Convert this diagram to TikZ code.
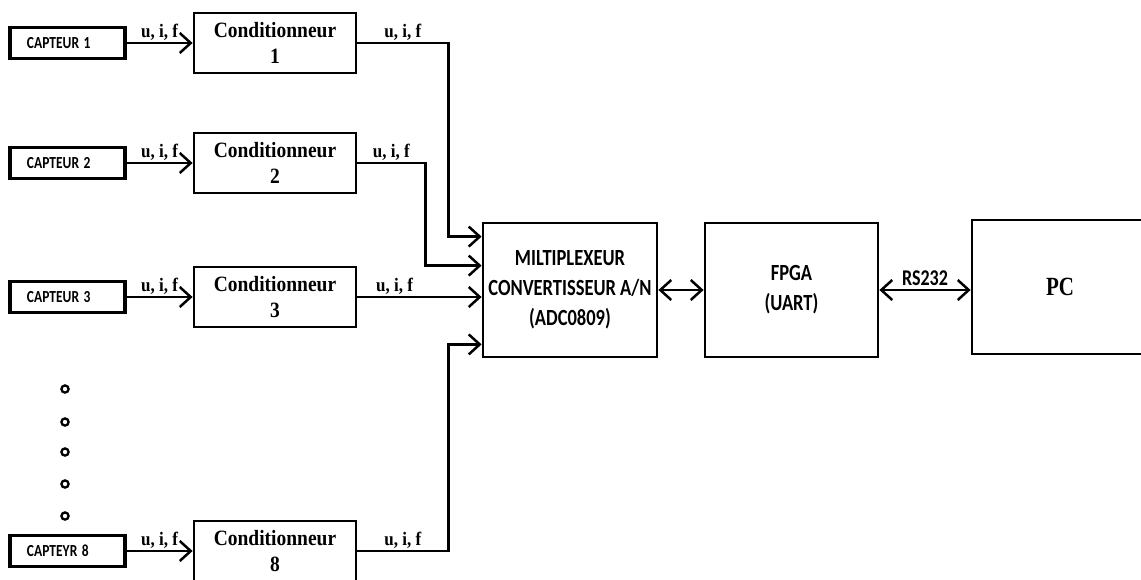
\documentclass[tikz,border=0pt]{standalone}
\usepackage{fontspec}
\usepackage{graphicx}
\setmainfont{Liberation Serif}
\newfontfamily\calibri{Carlito}
\usetikzlibrary{arrows.meta}
\newcommand{\etire}[1]{\scalebox{1}[1.25]{#1}}
\newcommand{\etirs}[1]{\scalebox{1}[1.12]{#1}}

\begin{document}
\begin{tikzpicture}[x=1pt,y=-1pt,
	capteur/.style={draw,line width=3.2pt,minimum height=31pt,inner ysep=0pt,inner xsep=17pt,text width=81pt,align=left,font=\calibri\bfseries\fontsize{13.5}{15}\selectfont},
	cond/.style={draw,line width=2.8pt,minimum width=162pt,minimum height=60pt,inner sep=0pt,align=center,font=\bfseries\fontsize{19.5}{26}\selectfont},
	bloc/.style={draw,line width=2.8pt,minimum width=174pt,minimum height=134pt,inner sep=0pt,align=center,font=\calibri\bfseries\fontsize{18.5}{30}\selectfont},
	fil/.style={line width=2.5pt},
	fleche/.style={fil,-{Straight Barb[length=11pt,width=20pt]}},
	double/.style={fil,{Straight Barb[length=11pt,width=20pt]}-{Straight Barb[length=11pt,width=20pt]}},
	lab/.style={font=\bfseries\fontsize{17}{20}\selectfont,inner sep=1pt}]
	\useasboundingbox (0,0) rectangle (1141,579);
	\clip (0,0) rectangle (1141,579);
	% capteurs
	\node[capteur] (cap1) at (67.5,43) {\etire{CAPTEUR 1}};
	\node[capteur] (cap2) at (67.5,163) {\etire{CAPTEUR 2}};
	\node[capteur] (cap3) at (67.5,297) {\etire{CAPTEUR 3}};
	\node[capteur] (cap8) at (67.5,551) {\etire{CAPTEYR 8}};
	\foreach \y in {389,422,452,484,516}
		\draw[line width=2.3pt] (65,\y) circle (3.6pt);
	% conditionneurs
	\node[cond] (c1) at (275,43) {\etirs{Conditionneur}\\\etirs{1}};
	\node[cond] (c2) at (275,163) {\etirs{Conditionneur}\\\etirs{2}};
	\node[cond] (c3) at (275,297) {\etirs{Conditionneur}\\\etirs{3}};
	\node[cond] (c8) at (275,551) {\etirs{Conditionneur}\\\etirs{8}};
	% blocs
	\node[bloc] (mux) at (570,290) {\etire{MILTIPLEXEUR}\\\etire{CONVERTISSEUR A/N}\\\etire{(ADC0809)}};
	\node[bloc,minimum width=173pt] (fpga) at (791.5,290) {\etire{FPGA}\\\etire{(UART)}};
	\node[draw,line width=2.8pt,minimum width=176pt,minimum height=134pt,font=\bfseries\fontsize{21}{26}\selectfont] (pc) at (1060,287) {\etire{PC}};
	% entrees
	\draw[fleche] (cap1) -- node[lab,above] {\etirs{u, i, f}} (c1);
	\draw[fleche] (cap2) -- node[lab,above] {\etirs{u, i, f}} (c2);
	\draw[fleche] (cap3) -- node[lab,above] {\etirs{u, i, f}} (c3);
	\draw[fleche] (cap8) -- node[lab,above] {\etirs{u, i, f}} (c8);
	% sorties vers le multiplexeur
	\draw[fleche] (c1.east) -- ++(91,0) node[lab,midway,above] {\etirs{u, i, f}} |- ([yshift=-15pt]mux.north west);
	\draw[fleche] (c2.east) -- ++(68,0) node[lab,midway,above] {\etirs{u, i, f}} |- ([yshift=-44pt]mux.north west);
	\draw[fleche] (c3.east) -- node[lab,pos=0.3,above] {\etirs{u, i, f}} (c3.east -| mux.west);
	\draw[fleche] (c8.east) -- ++(91,0) node[lab,midway,above] {\etirs{u, i, f}} |- ([yshift=14pt]mux.south west);
	% liaisons
	\draw[double] (mux) -- (fpga);
	\draw[double] (fpga.east) -- node[above,inner sep=3pt,font=\calibri\bfseries\fontsize{18}{20}\selectfont] {\etire{RS232}} (fpga.east -| pc.west);
\end{tikzpicture}
\end{document}
